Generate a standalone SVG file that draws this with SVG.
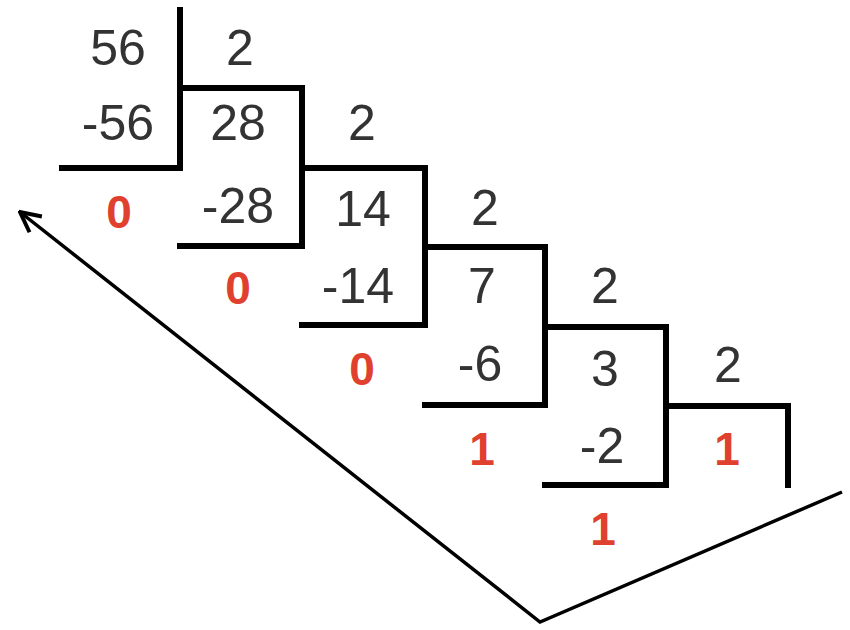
<svg xmlns="http://www.w3.org/2000/svg" width="850" height="630" viewBox="0 0 850 630">
<style>
.n{font-family:"Liberation Sans",Arial,sans-serif;font-size:50px;fill:#333;text-anchor:middle}
.r{font-family:"Liberation Sans",Arial,sans-serif;font-size:46px;font-weight:bold;fill:#e0402e;text-anchor:middle}
.l{fill:none;stroke:#000;stroke-width:6;stroke-linecap:square}
.a{fill:none;stroke:#000;stroke-width:3.5}
</style>
<defs>
<marker id="ah" viewBox="0 0 24 24" refX="22" refY="12" markerWidth="24" markerHeight="24" markerUnits="userSpaceOnUse" orient="auto">
<path d="M2,2 L22,12 L2,22" fill="none" stroke="#000" stroke-width="4"/>
</marker>
</defs>
<rect width="850" height="630" fill="#fff"/>
<g id="connectors">
<path class="l" d="M180,10 V168 H62 M180,88 H302 V246 H180 M302,168 H425 V325 H302 M425,247 H545 V405 H425 M545,327 H666 V485 H545 M666,406 H788 V485"/>
<path class="a" d="M842,492 L540,622 L20,212" marker-end="url(#ah)"/>
</g>
<g id="step1"><text class="n" x="118" y="65">56</text><text class="n" x="240" y="65">2</text><text class="n" x="118" y="140">-56</text><text class="n" x="238" y="140">28</text><text class="r" x="119" y="228">0</text></g>
<g id="step2"><text class="n" x="362" y="140">2</text><text class="n" x="238" y="223">-28</text><text class="n" x="363" y="226">14</text><text class="r" x="238" y="304">0</text></g>
<g id="step3"><text class="n" x="485" y="225">2</text><text class="n" x="358" y="303">-14</text><text class="n" x="482" y="303">7</text><text class="r" x="362" y="385">0</text></g>
<g id="step4"><text class="n" x="605" y="303">2</text><text class="n" x="480" y="381">-6</text><text class="n" x="605" y="386">3</text><text class="r" x="482" y="465">1</text></g>
<g id="step5"><text class="n" x="728" y="382">2</text><text class="n" x="602" y="463">-2</text><text class="r" x="727" y="465">1</text><text class="r" x="603" y="545">1</text></g>
</svg>
